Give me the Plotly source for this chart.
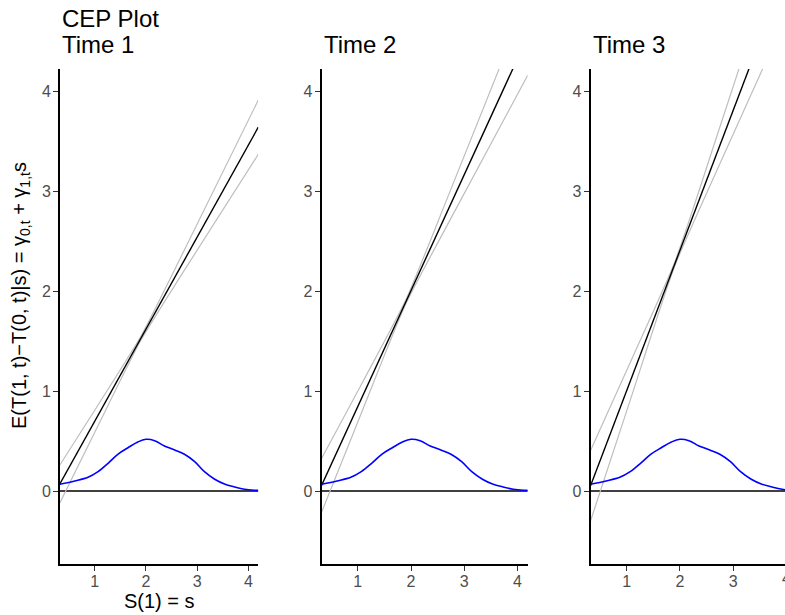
import plotly.graph_objects as go

# ---- data ----
times = ["Time 1", "Time 2", "Time 3"]
s_grid = [0.32, 1.1, 1.9, 2.7, 4.19]

mean_t1 = [0.070, 0.789, 1.527, 2.264, 3.638]
upper_t1 = [0.26, 0.888, 1.547, 2.360, 3.909]
lower_t1 = [-0.12, 0.690, 1.507, 2.169, 3.367]

mean_t2 = [0.056, 0.961, 1.889, 2.817, 4.545]
upper_t2 = [0.325, 1.098, 1.909, 2.954, 4.934]
lower_t2 = [-0.213, 0.823, 1.869, 2.679, 4.156]

mean_t3 = [0.053, 1.145, 2.265, 3.385, 5.471]
upper_t3 = [0.405, 1.326, 2.285, 3.558, 5.970]
lower_t3 = [-0.299, 0.964, 2.245, 3.212, 4.972]

dens_s = [0.32, 0.61, 0.87, 1.065, 1.26, 1.45, 1.65, 1.84, 2.0, 2.17, 2.36, 2.56,
          2.75, 2.95, 3.14, 3.34, 3.53, 3.73, 3.92, 4.11, 4.19]
dens_y = [0.067, 0.10, 0.137, 0.193, 0.277, 0.367, 0.433, 0.49, 0.517, 0.503, 0.45, 0.41,
          0.367, 0.293, 0.193, 0.117, 0.07, 0.04, 0.017, 0.007, 0.006]

x_ticks = [1, 2, 3, 4]
y_ticks = [0, 1, 2, 3, 4]

means = [mean_t1, mean_t2, mean_t3]
uppers = [upper_t1, upper_t2, upper_t3]
lowers = [lower_t1, lower_t2, lower_t3]

# ---- layout geometry ----
W, H = 785, 615
ML, MR, MT, MB = 60, 0, 69, 51
domains = [[0.0, 0.2735], [0.361, 0.6451], [0.732, 1.0]]
x_ranges = [[0.323, 4.19], [0.323, 4.19], [0.323, 3.975]]
y_range = [-0.73, 4.22]

FONT = "Liberation Sans, Arial, Helvetica, sans-serif"
TICKCOL = "#4D4D4D"
TICKSIZE = 16

fig = go.Figure()

for i in range(3):
    xa = "x" if i == 0 else f"x{i+1}"
    ya = "y" if i == 0 else f"y{i+1}"
    # zero line
    fig.add_trace(go.Scatter(x=[x_ranges[i][0], x_ranges[i][1]], y=[0, 0], mode="lines",
                             line=dict(color="black", width=1.3), xaxis=xa, yaxis=ya,
                             showlegend=False, hoverinfo="skip"))
    # CI bounds
    fig.add_trace(go.Scatter(x=s_grid, y=uppers[i], mode="lines",
                             line=dict(color="#BEBEBE", width=1.2, shape="spline", smoothing=0.6),
                             xaxis=xa, yaxis=ya, showlegend=False))
    fig.add_trace(go.Scatter(x=s_grid, y=lowers[i], mode="lines",
                             line=dict(color="#BEBEBE", width=1.2, shape="spline", smoothing=0.6),
                             xaxis=xa, yaxis=ya, showlegend=False))
    # mean
    fig.add_trace(go.Scatter(x=s_grid, y=means[i], mode="lines", line=dict(color="black", width=1.4),
                             xaxis=xa, yaxis=ya, showlegend=False))
    # density
    fig.add_trace(go.Scatter(x=dens_s, y=dens_y, mode="lines",
                             line=dict(color="#0000FF", width=1.6, shape="spline"),
                             xaxis=xa, yaxis=ya, showlegend=False))

axis_common = dict(showgrid=False, zeroline=False, showline=True, linecolor="black", linewidth=2,
                   ticks="outside", ticklen=5, tickwidth=1.3, tickcolor="#333333",
                   tickfont=dict(family=FONT, size=TICKSIZE, color=TICKCOL))

layout = dict(width=W, height=H, margin=dict(l=ML, r=MR, t=MT, b=MB),
              plot_bgcolor="white", paper_bgcolor="white", showlegend=False,
              font=dict(family=FONT))
for i in range(3):
    xk = "xaxis" if i == 0 else f"xaxis{i+1}"
    yk = "yaxis" if i == 0 else f"yaxis{i+1}"
    ya_name = "y" if i == 0 else f"y{i+1}"
    xa_name = "x" if i == 0 else f"x{i+1}"
    layout[xk] = dict(axis_common, domain=domains[i], range=x_ranges[i], tickvals=x_ticks,
                      anchor=ya_name, ticklabelstandoff=-3)
    layout[yk] = dict(axis_common, domain=[0, 1], range=y_range, tickvals=y_ticks,
                      anchor=xa_name, ticklabelstandoff=-1)
fig.update_layout(**layout)

def py(p):
    return (H - MB - p) / (H - MT - MB)

def px_(p):
    return (p - ML) / (W - ML - MR)

ann = []
ann.append(dict(text="CEP Plot", x=0.0, y=py(18), xref="paper", yref="paper", xanchor="left",
                yanchor="middle", showarrow=False, font=dict(family=FONT, size=24, color="black")))
for i, t in enumerate(times):
    ann.append(dict(text=t, x=domains[i][0], y=py(44.5), xref="paper", yref="paper", xanchor="left",
                    yanchor="middle", showarrow=False, font=dict(family=FONT, size=24, color="black")))
ann.append(dict(text="S(1) = s", x=(domains[0][0] + domains[0][1]) / 2, y=py(601), xref="paper",
                yref="paper", xanchor="center", yanchor="middle", showarrow=False,
                font=dict(family=FONT, size=20, color="black")))
ann.append(dict(text="E(T(1, t)\u2212T(0, t)|s) = \u03b3<sub>0,t</sub> + \u03b3<sub>1,t</sub>s",
                x=px_(20), y=py(296), xref="paper", yref="paper", xanchor="center", yanchor="middle",
                textangle=-90, showarrow=False, font=dict(family=FONT, size=20, color="black")))
# partially visible tick label "4" of the third panel at the right edge
ann.append(dict(text="4", x=px_(786.6), y=py(578), xref="paper", yref="paper", xanchor="center",
                yanchor="middle", showarrow=False, font=dict(family=FONT, size=TICKSIZE, color=TICKCOL)))
fig.update_layout(annotations=ann)

fig.write_html("out.html")
